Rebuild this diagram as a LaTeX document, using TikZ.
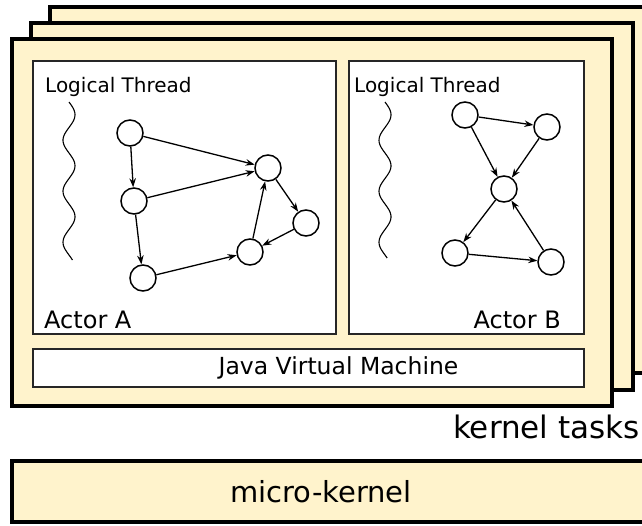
\documentclass[tikz,border=0pt]{standalone}
\usepackage{fontspec}
\setmainfont{DejaVu Sans}
\usetikzlibrary{arrows.meta}
\definecolor{taskfill}{RGB}{255,243,204}

\begin{document}
\begin{tikzpicture}[x=1pt, y=-1pt, >={Stealth[length=9pt,width=6.5pt]},
  task/.style={draw=black, line width=4pt, fill=taskfill},
  innerbox/.style={draw=black!85, line width=1.5pt, fill=white},
  actnode/.style={circle, draw, line width=1.5pt, minimum size=26pt, inner sep=0pt},
  msg/.style={->, line width=1.3pt},
  wave/.style={line width=1.1pt}]

\useasboundingbox (0,0) rectangle (642,525);
\begin{scope}
\clip (0,0) rectangle (642,525);

% --- Kernel Tasks (stacked) ---
\draw[task] (50,7) rectangle (652,373);
\draw[task] (31,23) rectangle (633,390);
\draw[task] (12,39) rectangle (612,406);

% --- Actor Boxes ---
\draw[innerbox] (33,61) rectangle (336,334);
\draw[innerbox] (349,61) rectangle (584,334);
\node[innerbox, minimum width=551pt, minimum height=38pt] (jvm) at (308.5,368) {};
\node[font=\fontsize{23.5}{28}\selectfont, inner sep=0pt] (jvmtext) at ([xshift=30pt]jvm.center) {Java Virtual Machine};

% Labels
\node[anchor=base west, inner sep=0pt, font=\fontsize{20}{24}\selectfont] (ltA) at (45,92) {Logical Thread};
\node[anchor=base west, inner sep=0pt, font=\fontsize{20}{24}\selectfont] (ltB) at (354,92) {Logical Thread};
\node[anchor=base west, inner sep=0pt, font=\fontsize{24}{28}\selectfont] (actA) at (44,328) {Actor A};
\node[anchor=base east, inner sep=0pt, font=\fontsize{24}{28}\selectfont] (actB) at (561,328) {Actor B};

% --- Threads ---
\draw[wave] plot[domain=0:158, samples=90, smooth] ({69+6*sin(7.0588*\x)}, {102+\x});
\draw[wave] plot[domain=0:156, samples=90, smooth] ({385+6*sin(7.0588*\x)}, {102+\x});

% --- Actor A graph ---
\node[actnode] (a1) at (130,133) {};
\node[actnode] (a2) at (134,201) {};
\node[actnode] (a3) at (143,278) {};
\node[actnode] (a4) at (268,168) {};
\node[actnode] (a5) at (306,223) {};
\node[actnode] (a6) at (250,252) {};
\draw[msg] (a1) -- (a2);
\draw[msg] (a1) -- (a4);
\draw[msg] (a2) -- (a4);
\draw[msg] (a2) -- (a3);
\draw[msg] (a3) -- (a6);
\draw[msg] (a6) -- (a4);
\draw[msg] (a4) -- (a5);
\draw[msg] (a5) -- (a6);

% --- Actor B graph ---
\node[actnode] (b1) at (465,115) {};
\node[actnode] (b2) at (547,127) {};
\node[actnode] (b3) at (504,189) {};
\node[actnode] (b4) at (455,253) {};
\node[actnode] (b5) at (551,262) {};
\draw[msg] (b1) -- (b2);
\draw[msg] (b1) -- (b3);
\draw[msg] (b2) -- (b3);
\draw[msg] (b3) -- (b4);
\draw[msg] (b4) -- (b5);
\draw[msg] (b5) -- (b3);

% --- Micro-kernel ---
\node[anchor=base east, inner sep=0pt, font=\fontsize{31}{36}\selectfont] (ktasks) at (640,438) {kernel tasks};
\draw[task] (12,461) rectangle (652,522);
\node[anchor=base, inner sep=0pt, font=\fontsize{29}{34}\selectfont] (mk) at (321,502) {micro-kernel};
\end{scope}
\end{tikzpicture}
\end{document}
